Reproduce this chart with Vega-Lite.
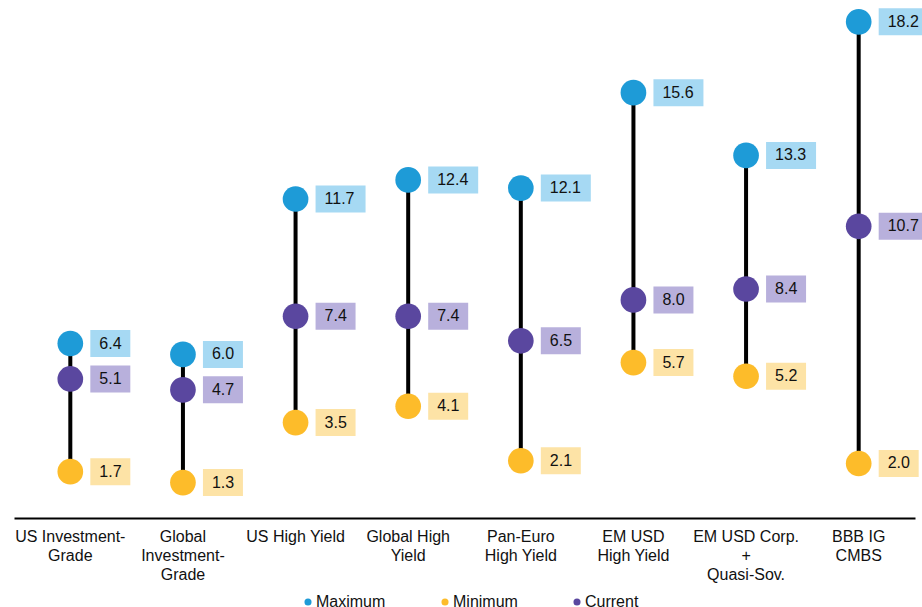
{
  "$schema": "https://vega.github.io/schema/vega-lite/v6.json",
  "width": 901,
  "height": 518,
  "autosize": {"type": "none"},
  "padding": {"left": 14, "top": 0, "right": 7, "bottom": 89},
  "background": "white",
  "config": {
    "view": {"stroke": null},
    "font": "Liberation Sans"
  },
  "data": {
    "values": [
      {"cat": "US Investment-\nGrade", "series": "Maximum", "value": 6.4},
      {"cat": "US Investment-\nGrade", "series": "Minimum", "value": 1.7},
      {"cat": "US Investment-\nGrade", "series": "Current", "value": 5.1},
      {"cat": "Global\nInvestment-\nGrade", "series": "Maximum", "value": 6.0},
      {"cat": "Global\nInvestment-\nGrade", "series": "Minimum", "value": 1.3},
      {"cat": "Global\nInvestment-\nGrade", "series": "Current", "value": 4.7},
      {"cat": "US High Yield", "series": "Maximum", "value": 11.7},
      {"cat": "US High Yield", "series": "Minimum", "value": 3.5},
      {"cat": "US High Yield", "series": "Current", "value": 7.4},
      {"cat": "Global High\nYield", "series": "Maximum", "value": 12.4},
      {"cat": "Global High\nYield", "series": "Minimum", "value": 4.1},
      {"cat": "Global High\nYield", "series": "Current", "value": 7.4},
      {"cat": "Pan-Euro\nHigh Yield", "series": "Maximum", "value": 12.1},
      {"cat": "Pan-Euro\nHigh Yield", "series": "Minimum", "value": 2.1},
      {"cat": "Pan-Euro\nHigh Yield", "series": "Current", "value": 6.5},
      {"cat": "EM USD\nHigh Yield", "series": "Maximum", "value": 15.6},
      {"cat": "EM USD\nHigh Yield", "series": "Minimum", "value": 5.7},
      {"cat": "EM USD\nHigh Yield", "series": "Current", "value": 8.0},
      {"cat": "EM USD Corp.\n+\nQuasi-Sov.", "series": "Maximum", "value": 13.3},
      {"cat": "EM USD Corp.\n+\nQuasi-Sov.", "series": "Minimum", "value": 5.2},
      {"cat": "EM USD Corp.\n+\nQuasi-Sov.", "series": "Current", "value": 8.4},
      {"cat": "BBB IG\nCMBS", "series": "Maximum", "value": 18.2},
      {"cat": "BBB IG\nCMBS", "series": "Minimum", "value": 2.0},
      {"cat": "BBB IG\nCMBS", "series": "Current", "value": 10.7}
    ]
  },
  "encoding": {
    "x": {
      "field": "cat",
      "type": "nominal",
      "sort": null,
      "scale": {"type": "band", "paddingInner": 0, "paddingOuter": 0},
      "axis": {
        "title": null,
        "labelAngle": 0,
        "labelExpr": "split(datum.label, '\\n')",
        "labelFont": "Liberation Sans",
        "labelFontSize": 16,
        "labelColor": "#111111",
        "labelLineHeight": 19,
        "labelPadding": 10,
        "labelBaseline": "top",
        "labelLimit": 200,
        "ticks": false,
        "domainColor": "#000000",
        "domainWidth": 2,
        "grid": false
      }
    }
  },
  "layer": [
    {
      "mark": {"type": "rule", "color": "#000000", "strokeWidth": 4},
      "encoding": {
        "y": {"aggregate": "min", "field": "value", "type": "quantitative", "scale": {"domain": [0, 19], "nice": false, "zero": true}, "axis": null},
        "y2": {"aggregate": "max", "field": "value"}
      }
    },
    {
      "mark": {"type": "point", "filled": true, "opacity": 1, "size": 660, "shape": "circle"},
      "encoding": {
        "y": {"field": "value", "type": "quantitative", "scale": {"domain": [0, 19], "nice": false}, "axis": null},
        "color": {
          "field": "series",
          "type": "nominal",
          "scale": {"domain": ["Maximum", "Minimum", "Current"], "range": ["#1e9bd7", "#fdbc2a", "#5a479f"]},
          "legend": {
            "title": null,
            "orient": "none",
            "direction": "horizontal",
            "legendX": 286,
            "legendY": 594,
            "symbolType": "circle",
            "symbolSize": 50,
            "symbolOpacity": 1,
            "labelFont": "Liberation Sans",
            "labelFontSize": 16,
            "labelColor": "#111111",
            "labelOffset": 0,
            "columnPadding": 51
          }
        }
      }
    },
    {
      "mark": {"type": "point", "filled": true, "opacity": 1, "size": 1600, "strokeWidth": 0},
      "encoding": {
        "y": {"field": "value", "type": "quantitative", "scale": {"domain": [0, 19], "nice": false}, "axis": null},
        "fill": {
          "field": "series",
          "type": "nominal",
          "scale": {"domain": ["Maximum", "Minimum", "Current"], "range": ["#a6d9f3", "#fde3a6", "#b8b0dc"]},
          "legend": null
        },
        "shape": {
          "condition": {"test": "datum.value >= 10", "value": "M1,-0.675H3.5V0.675H1Z"},
          "value": "M1,-0.675H3V0.675H1Z"
        }
      }
    },
    {
      "mark": {"type": "text", "align": "left", "baseline": "middle", "dx": 29, "fontSize": 16, "font": "Liberation Sans", "color": "#111111"},
      "encoding": {
        "y": {"field": "value", "type": "quantitative", "scale": {"domain": [0, 19], "nice": false}, "axis": null},
        "text": {"field": "value", "type": "quantitative", "format": ".1f"}
      }
    }
  ]
}
